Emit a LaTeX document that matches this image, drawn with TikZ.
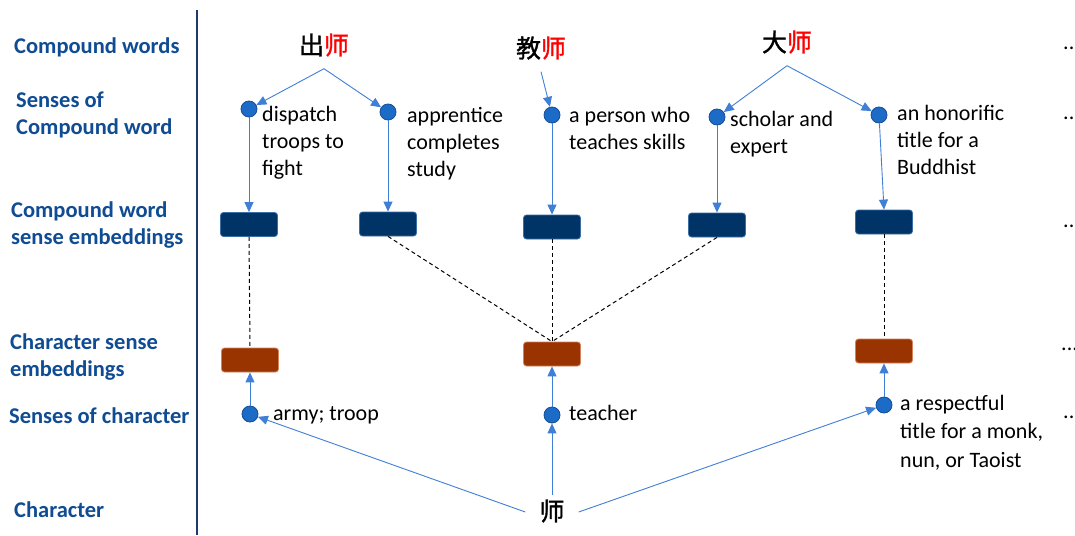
\documentclass[tikz,border=0pt]{standalone}
\usepackage{fontspec}
\setmainfont{Carlito}
\newfontfamily\cjk{Noto Sans CJK SC}[FakeBold=1.2]
\usetikzlibrary{arrows.meta}
\definecolor{lblue}{HTML}{0F4C93}
\definecolor{dotfill}{HTML}{1C6BC6}
\definecolor{dotedge}{HTML}{154E96}
\definecolor{navybox}{HTML}{003366}
\definecolor{navyedge}{HTML}{3A6EA5}
\definecolor{brownbox}{HTML}{993300}
\definecolor{brownedge}{HTML}{D4825F}
\definecolor{arrowblue}{HTML}{3F7FD6}
\definecolor{sepline}{HTML}{1F3A68}
\begin{document}
\begin{tikzpicture}[x=1pt,y=-1pt,
  lab/.style={anchor=west,align=left,font=\fontsize{22.5}{27}\selectfont\bfseries,text=lblue,inner sep=0pt},
  word/.style={font=\fontsize{25}{30}\selectfont\cjk,inner xsep=0pt,inner ysep=10pt,text height=21pt,text depth=4pt},
  charword/.style={font=\fontsize{25}{30}\selectfont\cjk,inner xsep=14pt,inner ysep=4pt,text height=21pt,text depth=4pt},
  sensept/.style={circle,fill=dotfill,draw=dotedge,line width=0.8pt,minimum size=16pt,inner sep=0pt},
  sensetxt/.style={anchor=base west,align=left,font=\fontsize{22}{27}\selectfont,inner sep=0pt},
  cwemb/.style={rectangle,rounded corners=3pt,fill=navybox,draw=navyedge,line width=0.8pt,minimum width=57pt,minimum height=24pt,inner sep=0pt},
  chemb/.style={rectangle,rounded corners=3pt,fill=brownbox,draw=brownedge,line width=0.8pt,minimum width=57pt,minimum height=24pt,inner sep=0pt},
  arr/.style={draw=arrowblue,line width=0.9pt,-{Triangle[length=10pt,width=9pt]}},
  dashln/.style={draw=black,line width=1pt,dash pattern=on 4pt off 3pt},
  dotsty/.style={anchor=base west,font=\fontsize{22}{27}\selectfont,inner sep=0pt}
]
\useasboundingbox (0,0) rectangle (1075,535);
\clip (0,0) rectangle (1075,535);
\fill[white] (0,0) rectangle (1075,535);

% separator
\draw[sepline,line width=2pt] (197,10) -- (197,535);

% left labels
\node[lab] (l1) at (14,47) {Compound words};
\node[lab] (l2) at (16,114.5) {Senses of\\Compound word};
\node[lab] (l3) at (11,225.5) {Compound word\\sense embeddings};
\node[lab] (l4) at (10,357.5) {Character sense\\embeddings};
\node[lab] (l5) at (9,416) {Senses of character};
\node[lab] (l6) at (14,510) {Character};

% compound words
\node[word] (w1) at (324,46) {出\textcolor{red}{师}};
\node[word] (w2) at (541,49) {教\textcolor{red}{师}};
\node[word] (w3) at (787,43) {大\textcolor{red}{师}};

% senses of compound words
\node[sensept] (c1) at (249,109) {};
\node[sensept] (c2) at (388,112) {};
\node[sensept] (c3) at (552,115) {};
\node[sensept] (c4) at (717,117) {};
\node[sensept] (c5) at (879,115) {};

% (base anchor = baseline of the last line)
\node[sensetxt] (t1) at (262,175) {dispatch\\troops to\\fight};
\node[sensetxt] (t2) at (407,176) {apprentice\\completes\\study};
\node[sensetxt] (t3) at (569,149) {a person who\\teaches skills};
\node[sensetxt] (t4) at (730,153) {scholar and\\expert};
\node[sensetxt] (t5) at (897,174) {an honorific\\title for a\\Buddhist};

% compound word sense embeddings
\node[cwemb] (e1) at (249,224.5) {};
\node[cwemb] (e2) at (388,224) {};
\node[cwemb] (e3) at (552,227) {};
\node[cwemb] (e4) at (717,225) {};
\node[cwemb] (e5) at (884,222) {};

% character sense embeddings
\node[chemb] (h1) at (250,360) {};
\node[chemb] (h2) at (552,354) {};
\node[chemb] (h3) at (884,351) {};

% senses of character
\node[sensept] (s1) at (250,414) {};
\node[sensept] (s2) at (552,415) {};
\node[sensept] (s3) at (884,405) {};
\node[sensetxt] (u1) at (273,420) {army; troop};
\node[sensetxt] (u2) at (569,420) {teacher};
\node[sensetxt,font=\fontsize{22}{28.5}\selectfont] (u3) at (900,467) {a respectful\\title for a monk,\\nun, or Taoist};

% character
\node[charword] (ch) at (552,512) {师};

% dots
\node[dotsty] (d1) at (1063,49) {...};
\node[dotsty] (d2) at (1063,119) {...};
\node[dotsty] (d3) at (1063,227) {...};
\node[dotsty] (d4) at (1061,350) {...};
\node[dotsty] (d5) at (1063,418) {...};

% arrows: words -> senses
\draw[arr] (w1.south) -- (c1);
\draw[arr] (w1.south) -- (c2);
\draw[arr] (w2.south) -- (c3);
\draw[arr] (w3.south) -- (c4);
\draw[arr] (w3.south) -- (c5);

% senses -> embeddings
\draw[arr] (c1) -- (e1.north);
\draw[arr] (c2) -- (e2.north);
\draw[arr] (c3) -- (e3.north);
\draw[arr] (c4) -- (e4.north);
\draw[arr] (c5) -- (e5.north);

% dashed links
\draw[dashln] (e1.south) -- (h1.north);
\draw[dashln] (e2.south) -- (h2.north);
\draw[dashln] (e3.south) -- (h2.north);
\draw[dashln] (e4.south) -- (h2.north);
\draw[dashln] (e5.south) -- (h3.north);

% character senses -> character embeddings
\draw[arr] (s1) -- (h1.south);
\draw[arr] (s2) -- (h2.south);
\draw[arr] (s3) -- (h3.south);

% character -> character senses
\draw[arr] (ch.west) -- (s1);
\draw[arr] (ch.north) -- (s2);
\draw[arr] (ch.east) -- (s3);
\end{tikzpicture}
\end{document}
